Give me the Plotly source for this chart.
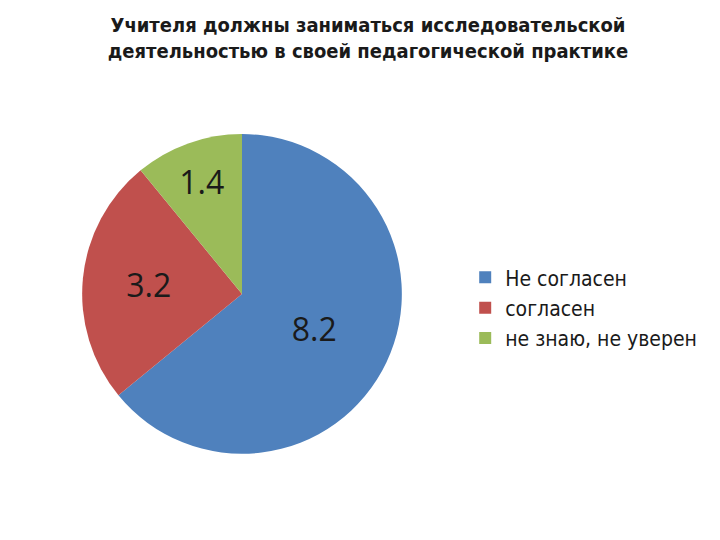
import plotly.graph_objects as go

labels = ["Не согласен", "согласен", "не знаю, не уверен"]
values = [8.2, 3.2, 1.4]
colors = ["#4F81BD", "#C0504D", "#9BBB59"]

fig = go.Figure()
fig.add_trace(go.Pie(
    labels=labels, values=values, sort=False, direction="clockwise", rotation=0,
    marker=dict(colors=colors),
    textinfo="value", textposition="inside", insidetextorientation="horizontal",
    textfont=dict(size=32, color="#1a1a1a", family="Open Sans"),
    domain=dict(x=[0.103, 0.547], y=[0.174, 0.767]),
))
fig.update_layout(
    width=720, height=540, margin=dict(l=0, r=0, t=0, b=0),
    paper_bgcolor="white", plot_bgcolor="white",
    font=dict(family="Liberation Sans"),
    title=dict(
        text="<b>Учителя должны заниматься исследовательской<br>деятельностью в своей педагогической практике</b>",
        x=0.5, xanchor="center", y=0.955, yanchor="top",
        font=dict(size=20, color="#1a1a1a", family="DejaVu Sans Condensed, Liberation Sans Narrow, sans-serif"),
    ),
    legend=dict(x=0.635, y=0.445, xanchor="left", yanchor="middle",
                font=dict(size=21, color="#1a1a1a", family="DejaVu Sans Condensed, sans-serif"),
                itemwidth=30, tracegroupgap=0),
)
fig.write_html("out.html")
